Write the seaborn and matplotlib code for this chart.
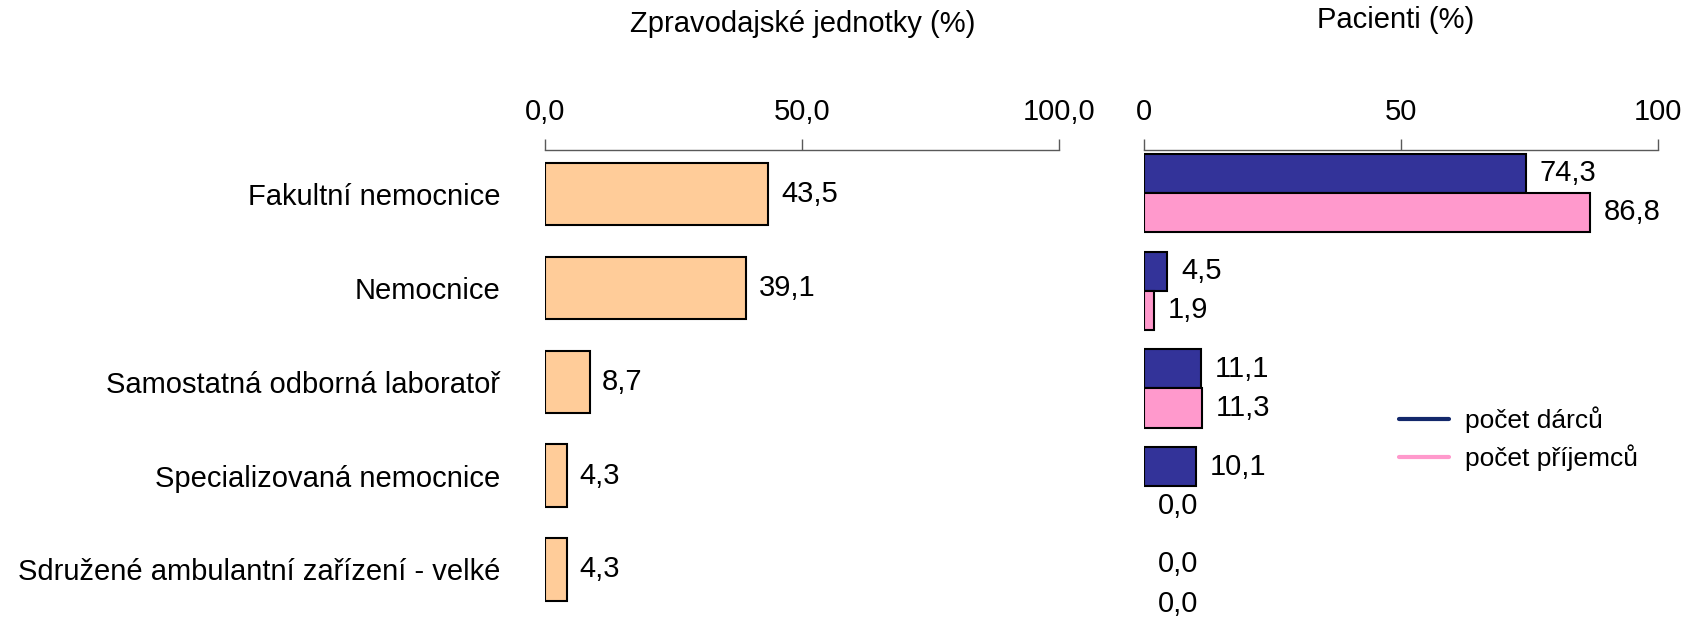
import pandas as pd
import seaborn as sns
import matplotlib.pyplot as plt
from matplotlib.lines import Line2D

# data
categories = [
    "Fakultní nemocnice",
    "Nemocnice",
    "Samostatná odborná laboratoř",
    "Specializovaná nemocnice",
    "Sdružené ambulantní zařízení - velké",
]
units_pct = [43.5, 39.1, 8.7, 4.3, 4.3]
donors_pct = [74.3, 4.5, 11.1, 10.1, 0.0]
recipients_pct = [86.8, 1.9, 11.3, 0.0, 0.0]
series_names = ["počet dárců", "počet příjemců"]
left_ticks = [0, 50, 100]
left_ticklabels = ["0,0", "50,0", "100,0"]
right_ticks = [0, 50, 100]
right_ticklabels = ["0", "50", "100"]

ORANGE = "#FFCC99"
BLUE = "#333399"
PINK = "#FF99CC"
LEGEND_BLUE = "#13286B"
FS = 21


def fmt(v):
    return f"{v:.1f}".replace(".", ",")


def style_axis(ax, ticks, ticklabels):
    ax.set_xlim(0, 100)
    ax.xaxis.tick_top()
    ax.set_xticks(ticks)
    ax.set_xticklabels(ticklabels)
    ax.tick_params(axis="x", direction="out", length=8, width=1, color="#595959",
                   pad=9, labelsize=FS, labelcolor="black")
    ax.tick_params(axis="y", length=0, labelsize=FS, labelcolor="black")
    for side in ["left", "right", "bottom"]:
        ax.spines[side].set_visible(False)
    ax.spines["top"].set_color("#595959")
    ax.spines["top"].set_linewidth(1)
    ax.set_xlabel("")
    ax.set_ylabel("")


def main():
    sns.set_theme(style="white")
    plt.rcParams["font.family"] = ["Liberation Sans", "DejaVu Sans"]
    plt.rcParams["text.color"] = "black"

    fig = plt.figure(figsize=(16.95, 6.21), dpi=100)
    ax1 = fig.add_axes([0.3215, 0.008, 0.3032, 0.751])
    ax2 = fig.add_axes([0.675, 0.008, 0.3032, 0.751])

    # left panel: units
    df_units = pd.DataFrame({"category": categories, "value": units_pct})
    sns.barplot(data=df_units, x="value", y="category", orient="h", color=ORANGE,
                width=0.665, edgecolor="black", linewidth=1.5, saturation=1, ax=ax1)
    style_axis(ax1, left_ticks, left_ticklabels)
    ax1.set_ylim(4.496, -0.472)
    ax1.tick_params(axis="y", pad=32)
    for c in ax1.containers:
        ax1.bar_label(c, labels=[fmt(v) for v in units_pct], padding=9, fontsize=FS)

    # right panel: patients
    df_pat = pd.DataFrame({
        "category": categories * 2,
        "value": donors_pct + recipients_pct,
        "series": [series_names[0]] * len(categories) + [series_names[1]] * len(categories),
    })
    sns.barplot(data=df_pat, x="value", y="category", hue="series", orient="h",
                palette=[BLUE, PINK], width=0.80, edgecolor="black", linewidth=1.5,
                saturation=1, ax=ax2)
    style_axis(ax2, right_ticks, right_ticklabels)
    ax2.set_ylim(4.328, -0.442)
    ax2.set_yticklabels([])
    for c, vals in zip(ax2.containers, [donors_pct, recipients_pct]):
        for patch, v in zip(c, vals):
            if v == 0:
                patch.set_linewidth(0)
        ax2.bar_label(c, labels=[fmt(v) for v in vals], padding=10, fontsize=FS)

    handles = [Line2D([0], [0], color=LEGEND_BLUE, lw=3),
               Line2D([0], [0], color=PINK, lw=3)]
    ax2.legend(handles, series_names, loc="center left", bbox_to_anchor=(0.45, 0.38),
               frameon=False, fontsize=19, handlelength=1.9, handletextpad=0.6,
               labelspacing=0.45)

    fig.text(803 / 1695, 1 - 24 / 621, "Zpravodajské jednotky (%)", ha="center",
             va="center", fontsize=FS)
    fig.text(1396 / 1695, 1 - 20 / 621, "Pacienti (%)", ha="center", va="center",
             fontsize=FS)

    fig.savefig("out.png", dpi=100)


if __name__ == "__main__":
    main()
